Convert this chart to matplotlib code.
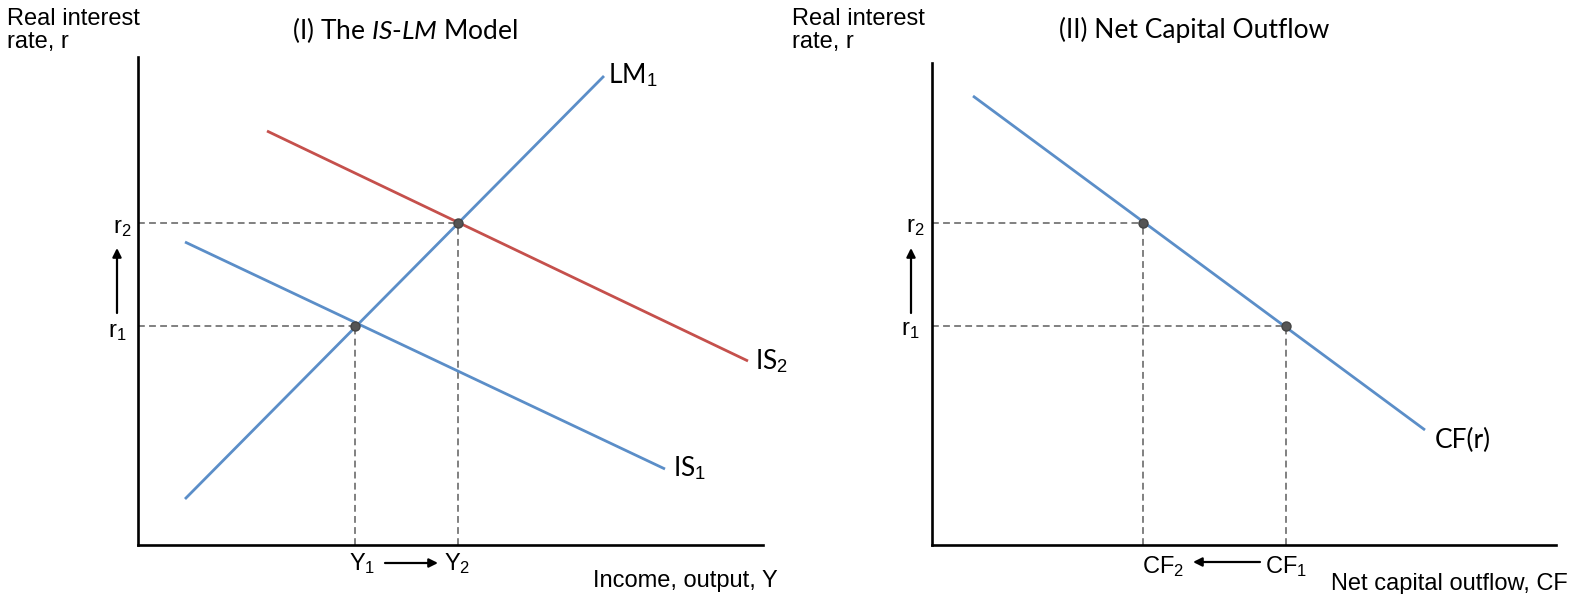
import matplotlib
matplotlib.use("Agg")
import matplotlib.pyplot as plt
import numpy as np

plt.rcParams["mathtext.fontset"] = "custom"
plt.rcParams["mathtext.rm"] = "Liberation Sans"
plt.rcParams["mathtext.it"] = "Lato:italic"

ARIAL = "Liberation Sans"
CALIBRI = "Lato"
BLUE = "#5b8ec8"
RED = "#c5504c"
GREY = "#808080"

# Panel I: IS-LM (units measured from the axes corner)
lm_x = [47, 466]
lm_y = [46, 469]
is1_x = [47, 527]
is1_y = [303, 76]
is2_x = [129, 610]
is2_y = [414, 184]
y_levels = [217, 320]   # Y1, Y2
r_levels = [219, 322]   # r1, r2

# Panel II: net capital outflow
cf_x = [41, 493]
cf_y = [449, 115]
cf_levels = [354, 211]  # CF1 (at r1), CF2 (at r2)

W, H = 1582, 594


def setup(ax, xmax, ymax):
    ax.set_xlim(0, xmax)
    ax.set_ylim(0, ymax)
    for s in ["top", "right"]:
        ax.spines[s].set_visible(False)
    for s in ["left", "bottom"]:
        ax.spines[s].set_linewidth(1.9)
        ax.spines[s].set_color("black")
    ax.set_xticks([])
    ax.set_yticks([])
    ax.patch.set_alpha(0)


def guides(ax, x, y):
    ax.plot([0, x], [y, y], ls=(0, (3.5, 2.2)), color=GREY, lw=1.4, zorder=1)
    ax.plot([x, x], [0, y], ls=(0, (3.5, 2.2)), color=GREY, lw=1.4, zorder=1)
    ax.plot(x, y, "o", ms=6.5, color="#555555", mec="#444444", zorder=5)


def arrow(ax, x0, y0, x1, y1):
    ax.annotate("", xy=(x1, y1), xytext=(x0, y0),
                arrowprops=dict(arrowstyle="-|>", color="black", lw=1.6,
                                mutation_scale=13, shrinkA=0, shrinkB=0),
                annotation_clip=False)


def txt(ax, x, y, s, family=ARIAL, size=17, **kw):
    ax.text(x, y, s, family=family, fontsize=size, clip_on=False, **kw)


fig = plt.figure(figsize=(W / 100, H / 100), dpi=100)

# ---- panel I
ax1 = fig.add_axes([138 / W, 49 / H, 625 / W, 488 / H])
setup(ax1, 625, 488)
ax1.plot(lm_x, lm_y, color=BLUE, lw=2, solid_capstyle="butt", zorder=3)
ax1.plot(is1_x, is1_y, color=BLUE, lw=2, solid_capstyle="butt", zorder=3)
ax1.plot(is2_x, is2_y, color=RED, lw=2, solid_capstyle="butt", zorder=3)
for yv, rv in zip(y_levels, r_levels):
    guides(ax1, yv, rv)

txt(ax1, -131, 537, "Real interest\nrate, r", va="top", ha="left", linespacing=1.05)
txt(ax1, 267, 515, r"(I) The $\mathit{IS}$-$\mathit{LM}$ Model", family=CALIBRI,
    size=19, ha="center", va="center")
txt(ax1, -16, 312, r"r$_2$", ha="center", va="baseline")
txt(ax1, -21, 208, r"r$_1$", ha="center", va="baseline")
arrow(ax1, -21, 232, -21, 297)
txt(ax1, y_levels[0] + 7, -25, r"Y$_1$", ha="center", va="baseline")
txt(ax1, y_levels[1] - 1, -25, r"Y$_2$", ha="center", va="baseline")
arrow(ax1, 247, -18, 300, -18)
txt(ax1, 640, -42, "Income, output, Y", ha="right", va="baseline")
txt(ax1, 470, 462, r"LM$_1$", family=CALIBRI, size=19, ha="left", va="baseline")
txt(ax1, 617, 176, r"IS$_2$", family=CALIBRI, size=19, ha="left", va="baseline")
txt(ax1, 535, 69, r"IS$_1$", family=CALIBRI, size=19, ha="left", va="baseline")

# ---- panel II
ax2 = fig.add_axes([932 / W, 49 / H, 624 / W, 482 / H])
setup(ax2, 624, 482)
ax2.plot(cf_x, cf_y, color=BLUE, lw=2, solid_capstyle="butt", zorder=3)
for cv, rv in zip(cf_levels, r_levels):
    guides(ax2, cv, rv)

txt(ax2, -140, 537, "Real interest\nrate, r", va="top", ha="left", linespacing=1.05)
txt(ax2, 262, 515, "(II) Net Capital Outflow", family=CALIBRI, size=19,
    ha="center", va="center")
txt(ax2, -17, 313, r"r$_2$", ha="center", va="baseline")
txt(ax2, -22, 210, r"r$_1$", ha="center", va="baseline")
arrow(ax2, -21, 232, -21, 297)
txt(ax2, cf_levels[1] + 20, -28, r"CF$_2$", ha="center", va="baseline")
txt(ax2, cf_levels[0], -28, r"CF$_1$", ha="center", va="baseline")
arrow(ax2, 328, -17, 261, -17)
txt(ax2, 636, -45, "Net capital outflow, CF", ha="right", va="baseline")
txt(ax2, 503, 105, "CF(r)", family=CALIBRI, size=19, ha="left", va="center")

fig.savefig("out.png", dpi=100)
